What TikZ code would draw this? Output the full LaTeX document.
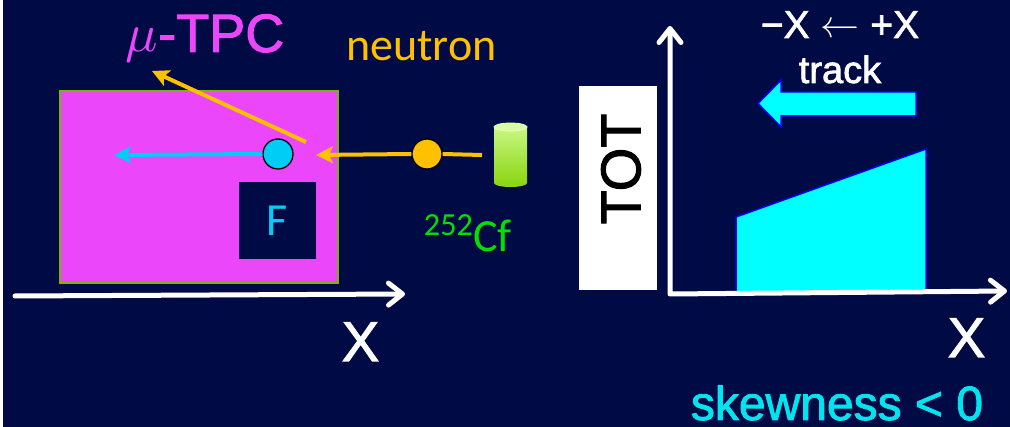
\documentclass[tikz,border=0pt]{standalone}
\usepackage{fontspec}
\usepackage{unicode-math}
\setmainfont{Liberation Sans}[FakeBold=1.8]
\setmathfont{Latin Modern Math}
\newfontfamily\carl{Carlito}
\usetikzlibrary{arrows.meta}
\definecolor{navy}{RGB}{0,10,68}
\definecolor{mag}{RGB}{236,70,250}
\definecolor{tpcgreen}{RGB}{120,180,20}
\definecolor{orng}{RGB}{255,192,0}
\definecolor{cyanA}{RGB}{0,205,245}
\definecolor{cyanB}{RGB}{0,255,255}
\definecolor{cyanT}{RGB}{0,228,240}
\definecolor{cfgreen}{RGB}{0,225,0}
\definecolor{cylTop}{RGB}{200,248,130}
\definecolor{cylBot}{RGB}{140,215,20}
\definecolor{cylEnd}{RGB}{215,252,160}
\definecolor{blueB}{RGB}{0,0,255}
\tikzset{
  fsz/.style={font=\fontsize{#1}{#1}\selectfont},
  ball/.style={circle, minimum size=30pt, inner sep=0pt, draw=black, line width=1.3pt},
  beam/.style={line width=4pt, -{Stealth[length=17pt,width=17pt,inset=4pt]}},
  axis/.style={white, line width=5pt, line cap=round, line join=round},
  barb/.tip={Straight Barb[length=14pt,width=22pt,line cap=round,line join=round]},
  lbl/.style={inner sep=0pt, anchor=base}
}
\begin{document}
\begin{tikzpicture}[x=1pt,y=-1pt]
\useasboundingbox (0,0) rectangle (1010,427);
\fill[white] (0,0) rectangle (3,427);
\fill[navy] (3,0) rectangle (1010,427);

% ---------- left panel ----------
\node[draw=tpcgreen, fill=mag, line width=1.5pt, minimum width=278pt, minimum height=192pt, inner sep=0pt] (tpc) at (199,187) {};
\node[fill=navy, minimum size=77pt, inner sep=0pt, text=cyanA, font=\carl\fontsize{46}{46}\selectfont] (F) at (277.5,220.5) {F};

\coordinate (cyantip) at (114,155);
\coordinate (rstart) at (306,142);
\coordinate (rtip) at (152,71);
\coordinate (ntip) at (316,155);
\coordinate (lend) at (482,155);

\node[ball, fill=cyanA] (sc) at (278,154) {};
\node[ball, fill=orng] (nc) at (427,154) {};

\draw[beam, cyanA] (sc.west) -- (cyantip);
\draw[beam, orng] (rstart) -- (rtip);
\draw[orng, line width=4pt] (lend) -- (nc.east);
\draw[beam, orng] (nc.west) -- (ntip);

% 252Cf source cylinder
\fill[cylBot] (510.5,183) ellipse [x radius=16.5, y radius=4];
\shade[top color=cylTop, bottom color=cylBot] (494,127) rectangle (527,183);
\fill[cylEnd] (510.5,127) ellipse [x radius=16.5, y radius=4];
\draw[white!60!cylTop, line width=0.8pt] (510.5,127) ellipse [x radius=16.5, y radius=4];
\coordinate (cf) at (510.5,155);

\node[lbl, text=mag, fsz=54] (tpclbl) at (205,52) {$\mu$-TPC};
\node[lbl, text=orng, font=\carl\fontsize{46}{46}\selectfont] (neu) at (421.5,61) {neutron};
\node[lbl, text=cfgreen, font=\carl\fontsize{46}{46}\selectfont] (cflbl) at (468,252) {\textsuperscript{252}Cf};

\coordinate (ax0) at (15,296);
\coordinate (ax1) at (405,294);
\draw[axis, -{barb}] (ax0) -- (ax1);
\node[lbl, text=white, fsz=56] (xl) at (360.5,361) {X};

% ---------- right panel ----------
\node[fill=white, minimum width=78pt, minimum height=204pt, inner sep=0pt] (totbox) at (618,188) {};
\node[rotate=90, inner sep=0pt, text=black, fsz=56] (tot) at (621,169) {TOT};

\filldraw[fill=cyanB, draw=blueB, line width=1.5pt] (736,293) -- (736,217) -- (926,149) -- (926,290) -- cycle;

\coordinate (ytip) at (670,26);
\coordinate (org) at (670,294);
\coordinate (xtip) at (1007,291);
\draw[axis, {barb}-{barb}] (ytip) -- (org) -- (xtip);

\filldraw[fill=cyanB, draw=blueB, line width=1.5pt] (916,92) -- (781,92) -- (781,80) -- (758,103.5) -- (781,127) -- (781,116) -- (916,116) -- cycle;

\node[lbl, text=white, fsz=39] (dir) at (840,38) {\char"2212X $\leftarrow$ +X};
\node[lbl, text=white, fsz=38] (trk) at (840,83) {track};
\node[lbl, text=white, fsz=56] (xr) at (966.5,357) {X};
\node[lbl, text=cyanT, fsz=48] (skew) at (837,420) {skewness < 0};
\end{tikzpicture}
\end{document}
